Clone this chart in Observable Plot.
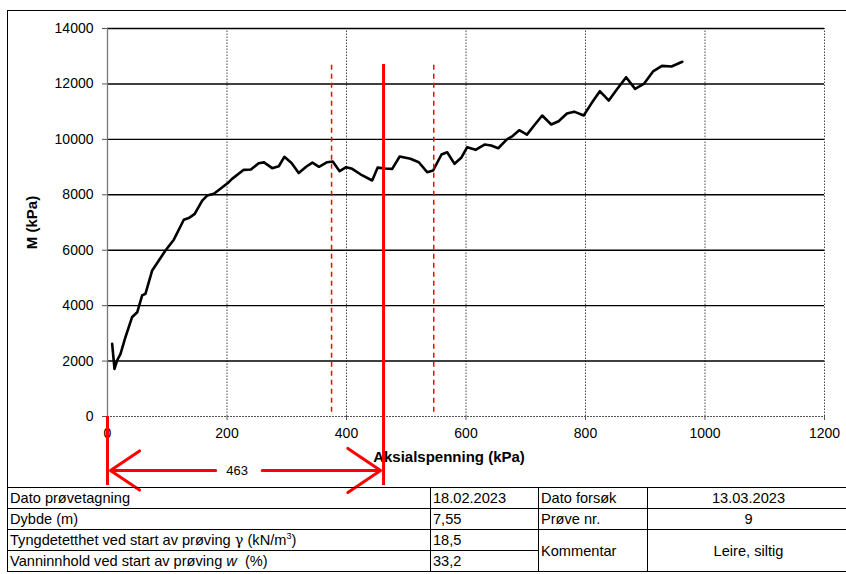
<!DOCTYPE html>
<html>
<head>
<meta charset="utf-8">
<script src="https://cdn.jsdelivr.net/npm/d3@7"></script>
<script src="https://cdn.jsdelivr.net/npm/@observablehq/plot@0.6"></script>
<style>
  html, body { margin: 0; padding: 0; background: #fff; }
  #wrap { position: relative; width: 846px; height: 574px; overflow: hidden; font-family: "Liberation Sans", Arial, sans-serif; }
  #frame { position: absolute; left: 7px; top: 10px; width: 845px; height: 478px; border-left: 1.5px solid #000; border-top: 1.5px solid #000; box-sizing: border-box; }
  #chart { position: absolute; left: 0; top: 0; }
  table { position: absolute; left: 7px; top: 487px; width: 842px; border-collapse: collapse; table-layout: fixed; font-size: 14.6px; color: #000; }
  td { border: 1.5px solid #000; height: 20px; line-height: 20px; padding: 0 2px; white-space: nowrap; overflow: hidden; }
  td.c { text-align: center; }
  sup { font-size: 9px; line-height: 0; vertical-align: 6px; }
</style>
</head>
<body>
<div id="wrap">
  <div id="frame"></div>
  <div id="chart"></div>
  <table>
    <colgroup><col style="width:423px"><col style="width:108px"><col style="width:109px"><col style="width:202px"></colgroup>
    <tr><td>Dato prøvetagning</td><td>18.02.2023</td><td>Dato forsøk</td><td class="c">13.03.2023</td></tr>
    <tr><td>Dybde (m)</td><td>7,55</td><td>Prøve nr.</td><td class="c">9</td></tr>
    <tr><td>Tyngdetetthet ved start av prøving <span style="font-family:'DejaVu Serif'">γ</span> (kN/m<sup>3</sup>)</td><td>18,5</td><td rowspan="2">Kommentar</td><td rowspan="2" class="c">Leire, siltig</td></tr>
    <tr><td>Vanninnhold ved start av prøving <i>w</i>&nbsp; (%)</td><td>33,2</td></tr>
  </table>
</div>
<script>
// Axial stress (kPa)
const stress = [7.8, 11.7, 16, 21.8, 30, 41, 49.7, 58, 63.6, 74.8, 85.9, 97, 111, 127.7, 136, 146, 158.5, 166.8, 178, 189, 203, 208.5, 228, 240, 253, 262, 275.6, 286.7, 296, 308, 320, 333, 343, 354, 367.7, 377, 388.5, 399.5, 409.5, 423.4, 443, 452, 465, 476.5, 489, 507, 521, 535, 545, 559, 568.5, 580.8, 592, 602, 616, 631, 642, 654, 668, 678, 689, 702, 714, 727.5, 742.6, 755, 769, 781, 797, 810, 824, 839, 853, 868, 883, 897.6, 913, 928, 944, 962];
// Oedometer modulus M (kPa)
const modulus = [2620, 1720, 2020, 2260, 2860, 3580, 3760, 4370, 4430, 5270, 5630, 5990, 6380, 7100, 7160, 7310, 7790, 7970, 8035, 8215, 8455, 8575, 8900, 8910, 9140, 9170, 8960, 9030, 9370, 9150, 8785, 9020, 9160, 9010, 9175, 9200, 8850, 8996, 8936, 8740, 8515, 8980, 8950, 8936, 9380, 9300, 9175, 8815, 8876, 9453, 9536, 9117, 9333, 9717, 9621, 9814, 9778, 9680, 9990, 10120, 10330, 10170, 10500, 10860, 10535, 10655, 10930, 11000, 10860, 11300, 11737, 11400, 11820, 12243, 11823, 12000, 12450, 12650, 12630, 12800];

const xTicks = [0, 200, 400, 600, 800, 1000, 1200];
const yTicks = [0, 2000, 4000, 6000, 8000, 10000, 12000, 14000];
const xLabel = "Aksialspenning (kPa)";
const yLabel = "M (kPa)";

// Annotation lines (kPa)
const dashedLines = [375, 546];
const mainLine = [462];
const dashTop = 12700, dashBottom = 150;
const spanLabel = ["463"];
const arrowLevel = -1948;      // below the axis, in M units
const lineBottom = -2490;
const arrowSegments = [
  { x1: 181, x2: 5 },
  { x1: 259, x2: 457 }
];
const labelPos = [217];

const data = stress.map((s, i) => ({ s, m: modulus[i] }));

const chart = Plot.plot({
  width: 846,
  height: 487,
  marginLeft: 107,
  marginRight: 22,
  marginTop: 28,
  marginBottom: 71,
  style: { fontFamily: "'Liberation Sans', Arial, sans-serif", fontSize: "14px", background: "transparent", color: "#000", overflow: "visible" },
  x: { domain: [0, 1200] },
  y: { domain: [0, 14000] },
  marks: [
    Plot.ruleX(xTicks.slice(1), { y1: 0, y2: 14000, stroke: "#444", strokeWidth: 1, strokeDasharray: "1.5,1.5", strokeOpacity: 1 }),
    Plot.ruleY(yTicks.slice(1), { stroke: "#000", strokeWidth: 1.4 }),
    Plot.ruleY([0], { stroke: "#555", strokeWidth: 1, strokeDasharray: "2,1" }),
    Plot.ruleX([0], { y1: 0, y2: 14000, stroke: "#777", strokeWidth: 1.3 }),
    Plot.axisX({ ticks: xTicks, tickSize: 4, tickPadding: 8, stroke: "#555", label: null, fill: "#000", fontSize: 14, tickFormat: d => String(d) }),
    Plot.axisY({ ticks: yTicks, tickSize: 5, tickPadding: 9, stroke: "#555", label: null, fill: "#000", fontSize: 14, tickFormat: d => String(d) }),
    Plot.text([xLabel], { frameAnchor: "bottom", dx: -17, dy: 45, fontWeight: "bold", fontSize: 15, fill: "#000" }),
    Plot.text([yLabel], { frameAnchor: "left", textAnchor: "middle", dx: -75, rotate: -90, fontWeight: "bold", fontSize: 15, fill: "#000" }),
    Plot.line(data, { x: "s", y: "m", stroke: "#000", strokeWidth: 2.6, strokeLinejoin: "round", strokeLinecap: "round" }),
    Plot.ruleX(dashedLines, { y1: dashBottom, y2: dashTop, stroke: "#ff0000", strokeWidth: 1.5, strokeDasharray: "5,4" }),
    Plot.ruleX(mainLine, { y1: lineBottom, y2: dashTop, stroke: "#ff0000", strokeWidth: 3 }),
    Plot.ruleX([0], { y1: 0, y2: lineBottom, stroke: "#ff0000", strokeWidth: 3 }),
    Plot.arrow(arrowSegments, { x1: "x1", x2: "x2", y1: arrowLevel, y2: arrowLevel, stroke: "#ff0000", strokeWidth: 3, headLength: 25, headAngle: 68 }),
    Plot.text(spanLabel, { x: labelPos, y: arrowLevel, text: d => d, fontSize: 13, fill: "#000" })
  ]
});
document.getElementById("chart").appendChild(chart);
</script>
</body>
</html>
